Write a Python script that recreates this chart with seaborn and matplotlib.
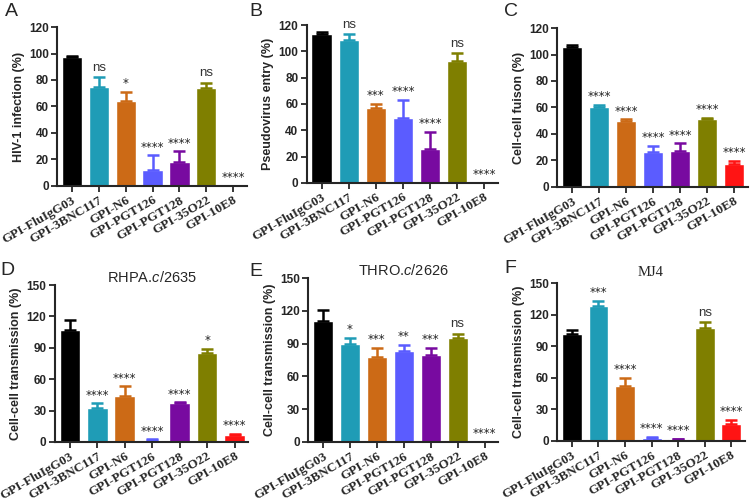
import matplotlib
matplotlib.use('Agg')
import matplotlib.pyplot as plt
import seaborn as sns
import pandas as pd

# --- Data ---
groups = ['GPI-FluIgG03', 'GPI-3BNC117', 'GPI-N6', 'GPI-PGT126',
          'GPI-PGT128', 'GPI-35O22', 'GPI-10E8']
bar_colors = ['#000000', '#1f9cb6', '#cc6a16', '#5b5cff',
              '#780aa0', '#7f7f00', '#ff1414']

infection = [97, 75, 64, 12, 18, 74, 0]
infection_err = [1.5, 7, 7, 11, 8, 4, 0]
infection_sig = ['', 'ns', '*', '****', '****', 'ns', '****']

entry = [113, 109, 57, 49, 26, 93, 0]
entry_err = [1.5, 4, 3, 14, 13, 6, 0]
entry_sig = ['', 'ns', '***', '****', '****', 'ns', '****']

fusion = [106, 60, 50, 26, 27, 51, 17]
fusion_err = [1, 2, 1, 5, 6, 1, 2.5]
fusion_sig = ['', '****', '****', '****', '****', '****', '****']

rhpa = [107, 32, 44, 2, 37, 85, 7]
rhpa_err = [10, 5, 9, 0.5, 1, 4, 1]
rhpa_sig = ['', '****', '****', '****', '****', '*', '****']

thro = [111, 90, 78, 83, 80, 95, 0]
thro_err = [10, 5, 8, 6, 6, 4, 0]
thro_sig = ['', '*', '***', '**', '***', 'ns', '****']

mj4 = [102, 128, 52, 3, 1.5, 107, 16]
mj4_err = [3, 5, 8, 1, 0.5, 6, 4]
mj4_sig = ['', '***', '****', '****', '****', 'ns', '****']

sns.set_style("ticks")
plt.rcParams['font.family'] = ['Liberation Sans', 'DejaVu Sans']
plt.rcParams['mathtext.fontset'] = 'custom'
plt.rcParams['mathtext.rm'] = 'Liberation Sans'
plt.rcParams['mathtext.it'] = 'Liberation Sans:italic'

fig = plt.figure(figsize=(7.5, 5.01), dpi=100)

# panel: (letter, values, errors, sig, ylabel, ymax, tickstep, title, axes rect, letter pos)
panels = [
    ('A', infection, infection_err, infection_sig, 'HIV-1 infection (%)', 120, 20, None,
     [0.076, 0.629, 0.253, 0.317], (0.006, 0.995)),
    ('B', entry, entry_err, entry_sig, 'Pseudovirus entry (%)', 120, 20, None,
     [0.409, 0.635, 0.255, 0.315], (0.333, 0.995)),
    ('C', fusion, fusion_err, fusion_sig, 'Cell-cell fuison (%)', 120, 20, None,
     [0.743, 0.627, 0.254, 0.317], (0.672, 0.995)),
    ('D', rhpa, rhpa_err, rhpa_sig, 'Cell-cell transmission (%)', 150, 30, r'RHPA.$\it{c}$/2635',
     [0.073, 0.118, 0.258, 0.313], (0.0, 0.478)),
    ('E', thro, thro_err, thro_sig, 'Cell-cell transmission (%)', 150, 30, r'THRO.$\it{c}$/2626',
     [0.411, 0.118, 0.253, 0.327], (0.333, 0.476)),
    ('F', mj4, mj4_err, mj4_sig, 'Cell-cell transmission (%)', 150, 30, 'MJ4',
     [0.743, 0.120, 0.250, 0.315], (0.672, 0.482)),
]

for letter, vals, errs, sig, ylabel, ymax, step, title, rect, lpos in panels:
    ax = fig.add_axes(rect)
    df = pd.DataFrame({'group': groups, 'value': vals})
    sns.barplot(data=df, x='group', y='value', hue='group', palette=bar_colors,
                legend=False, width=0.75, saturation=1, ax=ax, errorbar=None)
    for i, (v, e, c) in enumerate(zip(vals, errs, bar_colors)):
        if e > 0:
            ax.errorbar(i, v, yerr=[[0], [e]], color=c, capsize=4.5,
                        elinewidth=1.8, capthick=1.8)
        if sig[i]:
            top = v + e + ymax * 0.02
            if sig[i] == 'ns':
                ax.text(i, top, 'ns', ha='center', va='bottom', fontsize=9.5, color='#333333')
            else:
                ax.text(i, top - ymax * 0.01, sig[i], ha='center', va='bottom', fontsize=8.5,
                        family='DejaVu Sans', color='#222222')
    ax.set_xlim(-0.55, 6.5)
    ax.set_ylim(0, ymax)
    yt = list(range(0, ymax + 1, step))
    ax.set_yticks(yt, labels=[str(t) for t in yt], fontweight='bold', fontsize=8.5)
    ax.set_xlabel('')
    ax.set_ylabel(ylabel, fontsize=9, fontweight='bold', labelpad=3)
    ax.set_xticks(range(len(groups)), labels=groups, rotation=30, ha='right',
                  rotation_mode='anchor', family='Liberation Serif',
                  fontweight='bold', fontsize=9.5)
    ax.tick_params(axis='both', direction='out', length=4, width=1.3, pad=2)
    sns.despine(ax=ax)
    for s in ('left', 'bottom'):
        ax.spines[s].set_linewidth(1.5)
    if title:
        if letter == 'F':
            ax.set_title(title, fontsize=10.5, family='Liberation Serif', pad=5)
        else:
            ax.set_title(title, fontsize=10.5, pad=1)
    fig.text(lpos[0], lpos[1], letter, fontsize=14, va='top', ha='left')

fig.savefig('out.png', dpi=100)
